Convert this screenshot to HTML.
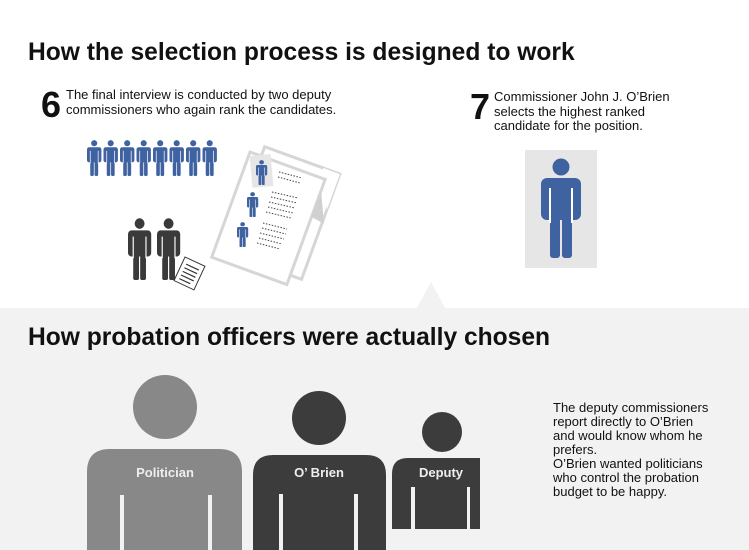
<!DOCTYPE html>
<html><head><style>
body{margin:0;width:749px;height:550px;overflow:hidden;background:#fff;font-family:"Liberation Sans",sans-serif;position:relative}
.a{position:absolute}
h1{position:absolute;margin:0;font-size:24.6px;font-weight:bold;color:#111;left:28px;white-space:nowrap}
.t{position:absolute;font-size:13px;line-height:14.5px;color:#111}
.n{position:absolute;font-size:36px;font-weight:bold;color:#111;line-height:36px}
</style></head><body>
<div class="a" style="left:0;top:308px;width:749px;height:242px;background:#f2f2f2"></div>
<svg class="a" style="left:0;top:0" width="749" height="550">
<defs>
<g id="f">
<circle cx="20" cy="9" r="8.5"/>
<rect x="0" y="20" width="40" height="42" rx="6"/>
<rect x="9" y="50" width="10" height="50" rx="3"/>
<rect x="21" y="50" width="10" height="50" rx="3"/>
<rect x="8" y="30" width="2" height="35" fill="#fff"/>
<rect x="30" y="30" width="2" height="35" fill="#fff"/>
</g>
</defs>
<polygon points="417,308 431,282 445,308" fill="#f2f2f2"/>
<rect x="525" y="150" width="72" height="118" fill="#e6e6e6"/>
<g fill="#3f62a0" transform="translate(541,158) scale(1,1)"><use href="#f"/></g>
<g fill="#3f62a0">
<use href="#f" transform="translate(87,140) scale(0.36,0.36)"/>
<use href="#f" transform="translate(103.5,140) scale(0.36,0.36)"/>
<use href="#f" transform="translate(120,140) scale(0.36,0.36)"/>
<use href="#f" transform="translate(136.5,140) scale(0.36,0.36)"/>
<use href="#f" transform="translate(153,140) scale(0.36,0.36)"/>
<use href="#f" transform="translate(169.5,140) scale(0.36,0.36)"/>
<use href="#f" transform="translate(186,140) scale(0.36,0.36)"/>
<use href="#f" transform="translate(202.5,140) scale(0.36,0.36)"/>
</g>
<g fill="#3a3a3a">
<use href="#f" transform="translate(128,218) scale(0.58,0.62)"/>
<use href="#f" transform="translate(157,218) scale(0.58,0.62)"/>
</g>
<g transform="translate(185,257) rotate(25)">
<rect x="0" y="0" width="22" height="26" fill="#fff" stroke="#333" stroke-width="1"/>
<g stroke="#333" stroke-width="1.2"><line x1="4" y1="6" x2="18" y2="6"/><line x1="4" y1="10" x2="18" y2="10"/><line x1="4" y1="14" x2="18" y2="14"/><line x1="4" y1="18" x2="18" y2="18"/><line x1="4" y1="22" x2="16" y2="22"/></g>
</g>
<g transform="translate(250,152) rotate(20)">
<rect x="12" y="-10" width="80" height="112" fill="#fff" stroke="#d6d6d6" stroke-width="3"/>
<polygon points="92,28 74,-10 92,-10" fill="#fff"/>
<rect x="0" y="0" width="80" height="112" fill="#fff" stroke="#d6d6d6" stroke-width="3"/>
<polygon points="80,40 80,12 94,42" fill="#d0d0d0"/>
</g>
<rect x="251" y="155" width="21" height="32" fill="#e6e6e6" transform="rotate(-5 261 171)"/>
<g fill="#3f62a0">
<use href="#f" transform="translate(256,160) scale(0.28,0.25)"/>
<use href="#f" transform="translate(247,192) scale(0.28,0.25)"/>
<use href="#f" transform="translate(237,222) scale(0.28,0.25)"/>
</g>
<g stroke="#444" stroke-width="1" stroke-dasharray="1.5 1.5">
<line x1="279" y1="172" x2="302" y2="178"/><line x1="278" y1="177" x2="300" y2="183"/>
<line x1="272" y1="192" x2="298" y2="198"/><line x1="271" y1="197" x2="297" y2="203"/><line x1="269" y1="202" x2="295" y2="208"/><line x1="268" y1="207" x2="293" y2="213"/><line x1="266" y1="212" x2="291" y2="218"/>
<line x1="263" y1="223" x2="287" y2="229"/><line x1="262" y1="228" x2="286" y2="234"/><line x1="260" y1="233" x2="284" y2="239"/><line x1="259" y1="238" x2="282" y2="244"/><line x1="257" y1="243" x2="280" y2="249"/>
</g>
<g fill="#888">
<circle cx="165" cy="407" r="32"/>
<path d="M87,550 V472 Q87,449 110,449 H219 Q242,449 242,472 V550 Z"/>
</g>
<rect x="120" y="495" width="4" height="60" fill="#f2f2f2"/>
<rect x="208" y="495" width="4" height="60" fill="#f2f2f2"/>
<g fill="#3c3c3c">
<circle cx="319" cy="418" r="27"/>
<path d="M253,550 V475 Q253,455 273,455 H366 Q386,455 386,475 V550 Z"/>
<circle cx="442" cy="432" r="20"/>
<path d="M392,529 V474 Q392,458 408,458 H480 V529 Z"/>
</g>
<rect x="279" y="494" width="4" height="60" fill="#f2f2f2"/>
<rect x="354" y="494" width="4" height="60" fill="#f2f2f2"/>
<rect x="411" y="487" width="4" height="45" fill="#f2f2f2"/>
<rect x="467" y="487" width="3" height="45" fill="#f2f2f2"/>
<g font-family="Liberation Sans" font-weight="bold" font-size="13" fill="#eee" text-anchor="middle">
<text x="165" y="477">Politician</text>
<text x="319" y="477">O’ Brien</text>
<text x="441" y="477">Deputy</text>
</g>
</svg>
<h1 style="top:39px">How the selection process is designed to work</h1>
<div class="n" style="left:41px;top:87px">6</div>
<div class="t" style="left:66px;top:88px">The final interview is conducted by two deputy<br>commissioners who again rank the candidates.</div>
<div class="n" style="left:470px;top:89px">7</div>
<div class="t" style="left:494px;top:90px">Commissioner John J. O’Brien<br>selects the highest ranked<br>candidate for the position.</div>
<h1 style="top:324px">How probation officers were actually chosen</h1>
<div class="t" style="left:553px;top:401px;line-height:14px">The deputy commissioners<br>report directly to O’Brien<br>and would know whom he<br>prefers.<br>O’Brien wanted politicians<br>who control the probation<br>budget to be happy.</div>
</body></html>
